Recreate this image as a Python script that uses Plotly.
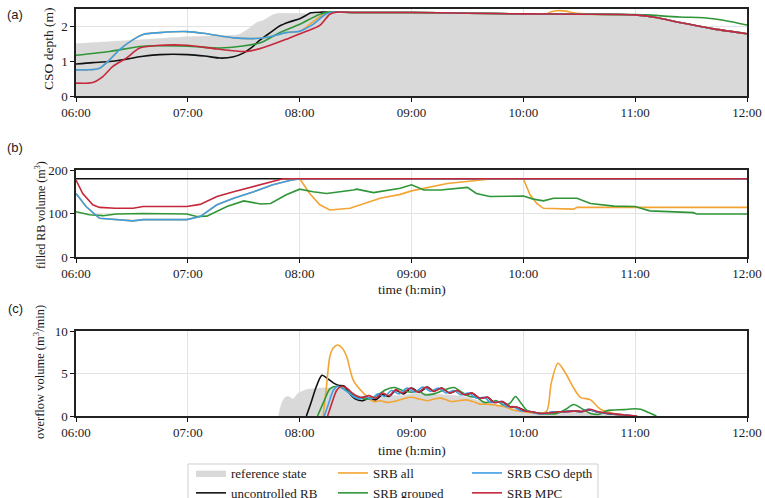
import plotly.graph_objects as go

# ---------------------------------------------------------------- axis ticks
HOUR_TICKS = [6, 7, 8, 9, 10, 11, 12]
HOUR_LABELS = ["06:00", "07:00", "08:00", "09:00", "10:00", "11:00", "12:00"]

# ------------------------------------------------ (a) CSO depth (m), time in h
ref_depth_t = [6.0, 6.5, 7.0, 7.25, 7.45, 7.55, 7.62, 7.68, 7.74, 7.80, 8.0, 9.0,
               10.0, 10.5, 11.0, 11.2, 11.4, 11.7, 12.0]
ref_depth_v = [1.50, 1.60, 1.70, 1.73, 1.76, 1.95, 2.12, 2.18, 2.30, 2.37, 2.37, 2.37,
               2.34, 2.33, 2.30, 2.22, 2.09, 1.91, 1.77]

unc_depth_t = [6.0, 6.15, 6.3, 6.45, 6.6, 6.75, 7.0, 7.15, 7.29, 7.4, 7.5, 7.58, 7.65,
               7.75, 7.82, 7.9, 8.0, 8.06, 8.1, 8.2, 8.5, 9.0, 9.5, 10.0, 10.5, 11.0,
               11.2, 11.4, 11.7, 12.0]
unc_depth_v = [0.92, 0.96, 0.99, 1.06, 1.14, 1.19, 1.19, 1.15, 1.09, 1.12, 1.24, 1.42,
               1.62, 1.85, 2.01, 2.12, 2.22, 2.32, 2.39, 2.41, 2.40, 2.40, 2.38, 2.36,
               2.35, 2.33, 2.25, 2.11, 1.93, 1.79]

all_depth_t = [6.0, 6.1, 6.21, 6.3, 6.39, 6.51, 6.6, 6.75, 6.99, 7.17, 7.41, 7.59, 7.71,
               7.88, 8.0, 8.06, 8.12, 8.18, 8.24, 8.5, 9.0, 9.5, 10.0, 10.2, 10.25,
               10.3, 10.38, 10.45, 10.6, 11.0, 11.2, 11.4, 11.7, 12.0]
all_depth_v = [0.75, 0.75, 0.80, 1.04, 1.33, 1.62, 1.77, 1.82, 1.85, 1.79, 1.67, 1.65,
               1.69, 1.82, 1.86, 1.98, 2.14, 2.28, 2.40, 2.40, 2.40, 2.38, 2.36, 2.36,
               2.42, 2.45, 2.44, 2.39, 2.35, 2.33, 2.25, 2.11, 1.93, 1.79]

grp_depth_t = [6.0, 6.3, 6.6, 6.99, 7.29, 7.47, 7.65, 7.82, 8.0, 8.18, 8.27, 8.5, 9.0,
               9.5, 10.0, 10.5, 11.0, 11.1, 11.4, 11.61, 11.8, 12.0]
grp_depth_v = [1.17, 1.28, 1.43, 1.43, 1.38, 1.43, 1.53, 1.82, 2.06, 2.35, 2.41, 2.40,
               2.40, 2.38, 2.36, 2.35, 2.34, 2.33, 2.27, 2.25, 2.17, 2.04]

cso_depth_t = [6.0, 6.1, 6.21, 6.3, 6.39, 6.51, 6.6, 6.75, 6.99, 7.17, 7.41, 7.59, 7.71,
               7.88, 8.0, 8.06, 8.12, 8.21, 8.27, 8.5, 9.0, 9.5, 10.0, 10.5, 11.0,
               11.2, 11.4, 11.7, 12.0]
cso_depth_v = [0.75, 0.75, 0.80, 1.04, 1.33, 1.62, 1.77, 1.82, 1.85, 1.79, 1.67, 1.65,
               1.69, 1.82, 1.86, 1.95, 2.06, 2.30, 2.40, 2.40, 2.40, 2.38, 2.36, 2.35,
               2.33, 2.25, 2.11, 1.93, 1.79]

mpc_depth_t = [6.0, 6.15, 6.24, 6.33, 6.45, 6.57, 6.72, 6.99, 7.26, 7.53, 7.71, 7.91,
               8.06, 8.18, 8.27, 8.33, 8.5, 9.0, 9.5, 10.0, 10.5, 11.0, 11.2, 11.4,
               11.7, 12.0]
mpc_depth_v = [0.37, 0.39, 0.56, 0.85, 1.09, 1.38, 1.45, 1.46, 1.35, 1.28, 1.43, 1.67,
               1.86, 2.03, 2.35, 2.41, 2.40, 2.40, 2.38, 2.36, 2.35, 2.33, 2.25, 2.11,
               1.93, 1.79]

# ------------------------------------------- (b) filled RB volume (m3), time in h
unc_vol_t = [6.0, 12.0]
unc_vol_v = [180, 180]

all_vol_t = [6.0, 6.09, 6.21, 6.36, 6.51, 6.6, 6.99, 7.11, 7.26, 7.41, 7.59, 7.76,
             7.91, 8.0, 8.09, 8.18, 8.27, 8.45, 8.72, 8.9, 9.0, 9.32, 9.61, 9.73,
             10.0, 10.06, 10.12, 10.18, 10.45, 10.48, 12.0]
all_vol_v = [146, 116, 89, 86, 83, 86, 86, 93, 120, 135, 150, 166, 176, 180, 146, 120,
             108, 112, 135, 144, 152, 169, 177, 180, 180, 143, 123, 112, 110, 114, 114]

grp_vol_t = [6.0, 6.12, 6.24, 6.36, 6.6, 6.99, 7.08, 7.17, 7.35, 7.5, 7.65, 7.74, 7.88,
             8.0, 8.12, 8.24, 8.48, 8.51, 8.66, 8.9, 9.0, 9.11, 9.26, 9.5, 9.58, 9.7,
             10.0, 10.09, 10.18, 10.27, 10.48, 10.6, 10.81, 11.0, 11.13, 11.52, 11.55,
             12.0]
grp_vol_v = [104, 97, 95, 99, 100, 99, 93, 94, 116, 129, 122, 123, 143, 156, 150, 146,
             154, 156, 148, 158, 166, 154, 154, 160, 146, 139, 140, 133, 129, 135, 135,
             123, 117, 116, 106, 102, 99, 99]

cso_vol_t = [6.0, 6.09, 6.21, 6.36, 6.51, 6.6, 6.99, 7.11, 7.26, 7.41, 7.59, 7.76,
             7.91, 8.0, 12.0]
cso_vol_v = [146, 116, 89, 86, 83, 86, 86, 93, 120, 135, 150, 166, 176, 180, 180]

mpc_vol_t = [6.0, 6.06, 6.15, 6.21, 6.35, 6.51, 6.6, 6.99, 7.11, 7.26, 7.41, 7.59,
             7.76, 7.85, 12.0]
mpc_vol_v = [177, 146, 120, 114, 112, 112, 116, 116, 121, 139, 150, 162, 173, 180, 180]

# --------------------------------------- (c) overflow volume (m3/min), time in h
ref_ovf_t = [7.81, 7.84, 7.87, 7.90, 7.94, 7.98, 8.02, 8.06, 8.12, 8.2, 8.3, 8.4, 8.5,
             8.6, 8.7, 8.8, 8.9, 9.0, 9.1, 9.2, 9.3, 9.4, 9.5, 9.6, 9.7, 9.8, 9.9,
             10.0, 10.1, 10.2, 10.3, 10.4, 10.5, 10.6, 10.7, 10.8, 10.9, 11.0]
ref_ovf_v = [0, 1.5, 2.2, 2.3, 2.0, 2.6, 2.9, 3.1, 3.2, 3.3, 3.3, 3.2, 2.6, 2.1, 2.1,
             2.4, 2.4, 2.6, 2.7, 2.6, 2.5, 2.4, 2.2, 1.8, 1.5, 1.2, 0.9, 0.6, 0.4,
             0.3, 0.35, 0.45, 0.45, 0.4, 0.25, 0.1, 0.02, 0]

unc_ovf_t = [8.06, 8.10, 8.15, 8.20, 8.25, 8.30, 8.35, 8.40, 8.45, 8.50, 8.56, 8.62,
             8.68, 8.74, 8.80, 8.86, 8.93, 9.0, 9.07, 9.14, 9.2, 9.27, 9.34, 9.41,
             9.48, 9.54, 9.61, 9.68, 9.74, 9.81, 9.88, 9.95, 10.02, 10.1, 10.18,
             10.26, 10.35, 10.45, 10.52, 10.58, 10.65, 10.72, 10.8, 10.88, 10.95, 11.0]
unc_ovf_v = [0, 1.5, 3.5, 4.8, 4.4, 3.9, 3.6, 3.5, 2.6, 2.0, 1.8, 2.1, 1.9, 2.5, 2.3,
             3.0, 2.6, 3.3, 2.8, 3.4, 2.9, 3.3, 2.7, 3.0, 2.5, 2.7, 2.1, 2.2, 1.6, 1.7,
             1.1, 1.0, 0.6, 0.4, 0.3, 0.45, 0.5, 0.6, 0.5, 0.75, 0.5, 0.35, 0.2, 0.12,
             0.05, 0]

all_ovf_t = [8.21, 8.24, 8.27, 8.30, 8.34, 8.38, 8.42, 8.48, 8.57, 8.66, 8.72, 8.78,
             8.84, 8.92, 9.0, 9.07, 9.14, 9.2, 9.26, 9.31, 9.36, 9.42, 9.49, 9.55,
             9.61, 9.68, 9.76, 9.83, 9.91, 10.0, 10.08, 10.15, 10.21, 10.25, 10.31,
             10.37, 10.45, 10.51, 10.6, 10.69, 10.81, 10.95]
all_ovf_v = [0, 3.5, 7.0, 8.0, 8.35, 8.0, 7.0, 4.2, 2.7, 1.7, 1.8, 1.6, 1.7, 2.0, 2.2,
             2.0, 1.8, 2.0, 2.1, 1.9, 1.7, 1.8, 1.9, 1.7, 1.4, 1.4, 1.25, 1.1, 0.7,
             0.5, 0.4, 0.3, 0.6, 3.9, 6.2, 5.2, 3.3, 2.2, 1.9, 0.8, 0.3, 0]

grp_ovf_t = [8.16, 8.22, 8.27, 8.33, 8.38, 8.43, 8.48, 8.55, 8.62, 8.70, 8.77, 8.85,
             8.92, 9.0, 9.06, 9.12, 9.2, 9.28, 9.38, 9.45, 9.52, 9.58, 9.65, 9.72,
             9.76, 9.82, 9.88, 9.93, 9.98, 10.03, 10.1, 10.2, 10.3, 10.38, 10.45,
             10.52, 10.6, 10.68, 10.74, 10.8, 10.9, 11.0, 11.05, 11.12, 11.19]
grp_ovf_v = [0, 1.8, 3.2, 3.5, 3.3, 2.9, 2.5, 2.1, 2.0, 2.5, 3.1, 3.35, 3.0, 2.8, 3.0,
             2.5, 2.6, 3.0, 3.35, 2.8, 2.3, 2.2, 1.6, 1.7, 1.8, 1.3, 1.5, 2.3, 1.5,
             0.7, 0.4, 0.25, 0.3, 0.8, 1.35, 0.9, 0.3, 0.2, 0.6, 0.7, 0.75, 0.85, 0.8,
             0.4, 0]

cso_ovf_t = [8.22, 8.26, 8.30, 8.34, 8.38, 8.43, 8.48, 8.53, 8.58, 8.64, 8.70, 8.76,
             8.82, 8.89, 8.96, 9.03, 9.10, 9.17, 9.24, 9.31, 9.38, 9.44, 9.51, 9.58,
             9.65, 9.71, 9.78, 9.85, 9.91, 9.98, 10.05, 10.12, 10.2, 10.28, 10.36,
             10.45, 10.52, 10.58, 10.65, 10.72, 10.8, 10.88, 10.95, 11.0]
cso_ovf_v = [0, 1.5, 3.0, 3.5, 3.3, 2.8, 2.3, 2.0, 2.3, 2.0, 2.6, 2.3, 3.0, 2.6, 3.3,
             2.8, 3.4, 2.9, 3.3, 2.7, 3.0, 2.5, 2.7, 2.1, 2.2, 1.6, 1.7, 1.1, 1.1, 0.6,
             0.55, 0.3, 0.3, 0.5, 0.5, 0.6, 0.5, 0.8, 0.5, 0.35, 0.25, 0.15, 0.05, 0]

mpc_ovf_t = [8.25, 8.29, 8.33, 8.37, 8.42, 8.47, 8.52, 8.57, 8.62, 8.68, 8.74, 8.80,
             8.86, 8.92, 8.99, 9.06, 9.13, 9.2, 9.27, 9.34, 9.41, 9.47, 9.54, 9.61,
             9.68, 9.74, 9.81, 9.88, 9.94, 10.01, 10.08, 10.15, 10.23, 10.31, 10.39,
             10.47, 10.54, 10.6, 10.67, 10.74, 10.82, 10.9, 10.97, 11.02]
mpc_ovf_v = [0, 1.6, 3.0, 3.5, 3.3, 2.7, 2.3, 2.2, 2.4, 2.1, 2.7, 2.4, 3.1, 2.7, 3.3,
             2.8, 3.4, 2.9, 3.3, 2.7, 3.0, 2.5, 2.7, 2.1, 2.2, 1.6, 1.7, 1.1, 1.05,
             0.6, 0.5, 0.3, 0.35, 0.5, 0.5, 0.6, 0.55, 0.8, 0.5, 0.35, 0.25, 0.12,
             0.04, 0]

# ----------------------------------------------------------------- styling
C_REF = "#d9d9d9"
C_UNC = "#111111"
C_ALL = "#f3a433"
C_GRP = "#2f9638"
C_CSO = "#3d9fe6"
C_MPC = "#c4283a"

SERIF = "Liberation Serif"
SANS = "Liberation Sans"
TXT = "#1a1a1a"
LW = 1.6

W, H = 765, 498
PL, PR = 76, 747          # plot area left/right edges in px


def ydom(top_px, bot_px):
    return [1 - bot_px / H, 1 - top_px / H]


fig = go.Figure()


def line(x, y, color, name, row, legend=None, shape="spline"):
    sfx = "" if row == 1 else str(row)
    fig.add_trace(go.Scatter(
        x=x, y=y, mode="lines", name=name,
        line=dict(color=color, width=LW, shape=shape, smoothing=0.8),
        xaxis="x" + sfx, yaxis="y" + sfx,
        showlegend=legend is not None, legend=legend or "legend",
        hoverinfo="skip"))


def area(x, y, row, legend=None):
    sfx = "" if row == 1 else str(row)
    fig.add_trace(go.Scatter(
        x=x, y=y, mode="lines", name="reference state", fill="tozeroy",
        fillcolor=C_REF, line=dict(color=C_REF, width=0.5, shape="spline", smoothing=0.6),
        xaxis="x" + sfx, yaxis="y" + sfx,
        showlegend=legend is not None, legend=legend or "legend",
        hoverinfo="skip"))


# panel (a)
area(ref_depth_t, ref_depth_v, 1, legend="legend")
line(unc_depth_t, unc_depth_v, C_UNC, "uncontrolled RB", 1, legend="legend")
line(all_depth_t, all_depth_v, C_ALL, "SRB all", 1, legend="legend2")
line(grp_depth_t, grp_depth_v, C_GRP, "SRB grouped", 1, legend="legend2")
line(cso_depth_t, cso_depth_v, C_CSO, "SRB CSO depth", 1, legend="legend3")
line(mpc_depth_t, mpc_depth_v, C_MPC, "SRB MPC", 1, legend="legend3")

# panel (b)
line(unc_vol_t, unc_vol_v, C_UNC, "uncontrolled RB", 2, shape="linear")
line(all_vol_t, all_vol_v, C_ALL, "SRB all", 2, shape="linear")
line(grp_vol_t, grp_vol_v, C_GRP, "SRB grouped", 2, shape="linear")
line(cso_vol_t, cso_vol_v, C_CSO, "SRB CSO depth", 2, shape="linear")
line(mpc_vol_t, mpc_vol_v, C_MPC, "SRB MPC", 2, shape="linear")

# panel (c)
area(ref_ovf_t, ref_ovf_v, 3)
line(unc_ovf_t, unc_ovf_v, C_UNC, "uncontrolled RB", 3)
line(all_ovf_t, all_ovf_v, C_ALL, "SRB all", 3)
line(grp_ovf_t, grp_ovf_v, C_GRP, "SRB grouped", 3)
line(cso_ovf_t, cso_ovf_v, C_CSO, "SRB CSO depth", 3)
line(mpc_ovf_t, mpc_ovf_v, C_MPC, "SRB MPC", 3)

axis_common = dict(
    showline=True, linecolor="#222222", linewidth=1.5, mirror=True,
    ticks="outside", ticklen=4, tickwidth=1.2, tickcolor="#111111",
    showgrid=True, gridcolor="#e3e3e3", gridwidth=1, zeroline=False,
    tickfont=dict(family=SERIF, size=13, color=TXT),
)
x_common = dict(axis_common, range=[6, 12], tickmode="array",
                tickvals=HOUR_TICKS, ticktext=HOUR_LABELS)

layout = dict(
    width=W, height=H,
    font=dict(family=SERIF, size=13, color=TXT),
    margin=dict(l=PL, r=W - PR, t=0, b=0, autoexpand=False),
    plot_bgcolor="white", paper_bgcolor="white",
    xaxis=dict(x_common, anchor="y"),
    yaxis=dict(axis_common, anchor="x", domain=ydom(9, 96), range=[0, 2.5],
               tickvals=[0, 1, 2]),
    xaxis2=dict(x_common, anchor="y2"),
    yaxis2=dict(axis_common, anchor="x2", domain=ydom(170, 257), range=[0, 200],
                tickvals=[0, 100, 200]),
    xaxis3=dict(x_common, anchor="y3"),
    yaxis3=dict(axis_common, anchor="x3", domain=ydom(331, 416), range=[0, 10],
                tickvals=[0, 5, 10]),
)

PW = PR - PL


def px_x(px):
    return (px - PL) / PW


def px_y(py):
    return 1 - py / H


leg_common = dict(
    orientation="v", yanchor="top", xanchor="left",
    y=px_y(458), bgcolor="rgba(0,0,0,0)", borderwidth=0,
    font=dict(family=SERIF, size=13, color=TXT), tracegroupgap=0,
    itemwidth=30,
)
layout["legend"] = dict(leg_common, x=px_x(191))
layout["legend2"] = dict(leg_common, x=px_x(333))
layout["legend3"] = dict(leg_common, x=px_x(467))

annotations = []
# panel letters
for lab, py in [("(a)", 14), ("(b)", 147), ("(c)", 308)]:
    annotations.append(dict(text=lab, x=px_x(15), y=px_y(py), xref="paper", yref="paper",
                            xanchor="center", yanchor="middle", showarrow=False,
                            font=dict(family=SANS, size=13, color=TXT)))
# y-axis titles
for lab, px, py, fs in [("CSO depth (m)", 48, 49, 13.5),
                        ("filled RB volume (m<sup>3</sup>)", 40, 215, 12),
                        ("overflow volume (m<sup>3</sup>/min)", 39, 372, 12.5)]:
    annotations.append(dict(text=lab, x=px_x(px), y=px_y(py), xref="paper", yref="paper",
                            xanchor="center", yanchor="middle", textangle=-90,
                            showarrow=False, font=dict(family=SERIF, size=fs, color=TXT)))
# x-axis titles
for py in [289, 450]:
    annotations.append(dict(text="time (h:min)", x=0.5, y=px_y(py), xref="paper",
                            yref="paper", xanchor="center", yanchor="middle",
                            showarrow=False, font=dict(family=SERIF, size=13.5, color=TXT)))
layout["annotations"] = annotations

# legend frame
layout["shapes"] = [dict(type="rect", xref="paper", yref="paper",
                         x0=px_x(188), x1=px_x(598), y0=px_y(464), y1=px_y(515),
                         line=dict(color="#cfcfcf", width=1), fillcolor="rgba(0,0,0,0)",
                         layer="below")]

fig.update_layout(layout)
fig.write_html("out.html")
